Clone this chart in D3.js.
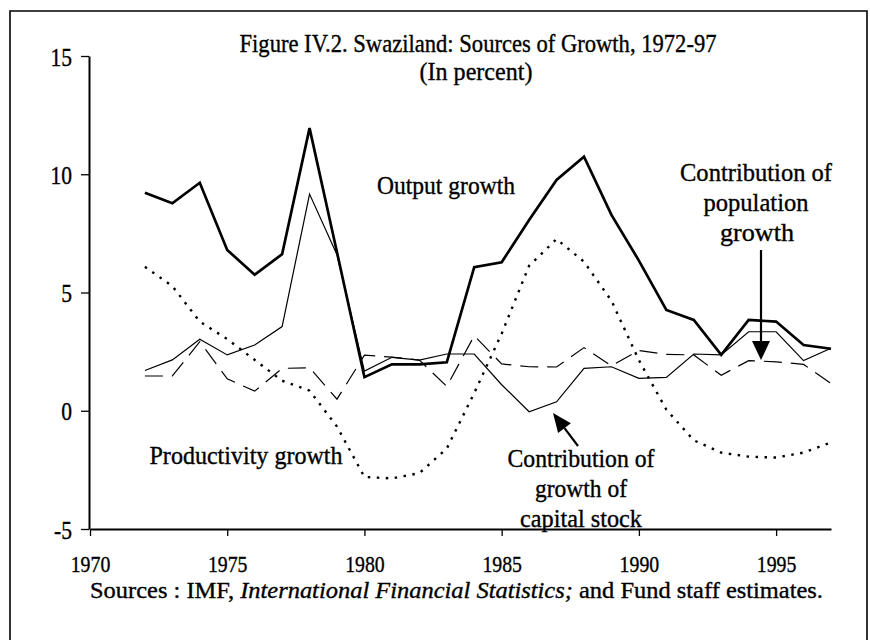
<!DOCTYPE html>
<html>
<head>
<meta charset="utf-8">
<script src="https://cdn.jsdelivr.net/npm/d3@7"></script>
<style>
  body { margin: 0; background: #fff; }
  text { font-family: "Liberation Serif", "Times New Roman", serif; fill: #000; stroke: #000; stroke-width: 0.35px; }
</style>
</head>
<body>
<div id="chart"></div>
<script>
// Swaziland: sources of growth, 1972-97 (in percent)
const years = d3.range(1972, 1998);
const outputGrowth = [9.22, 8.77, 9.64, 6.80, 5.75, 6.62, 11.95, 6.70, 1.42, 1.96, 1.96, 2.05, 6.07,
  6.28, 8.07, 9.76, 10.74, 8.28, 6.35, 4.26, 3.84, 2.36, 3.84, 3.77, 2.78, 2.62];
const capitalContrib = [1.70, 2.15, 3.02, 2.36, 2.78, 3.56, 9.16, 6.60, 1.68, 2.26, 2.14, 2.40, 2.40,
  1.10, -0.04, 0.38, 1.79, 1.86, 1.37, 1.41, 2.40, 2.36, 3.34, 3.34, 2.12, 2.64];
const populationContrib = [1.47, 1.47, 2.92, 1.35, 0.83, 1.79, 1.82, 0.49, 2.35, 2.27, 2.14, 1.03, 3.17,
  1.98, 1.86, 1.85, 2.67, 1.90, 2.55, 2.38, 2.36, 1.50, 2.12, 2.07, 1.96, 1.15];
const productivity = [6.09, 5.27, 3.77, 3.03, 2.15, 1.27, 0.85, -0.67, -2.80, -2.86, -2.64, -1.60, 0.75,
  3.26, 6.13, 7.26, 6.30, 4.65, 2.14, 0.05, -1.25, -1.77, -1.94, -1.98, -1.77, -1.34];
const xTicks = [1970, 1975, 1980, 1985, 1990, 1995];
const yTicks = [-5, 0, 5, 10, 15];

const width = 870;
const height = 640;
const squeeze = 0.86; // the scanned type is narrow

const svg = d3.select("#chart")
  .append("svg")
  .attr("width", width)
  .attr("height", height);

// frame of the scanned page
svg.append("path")
  .attr("d", "M10,640 L10,11 L867,11 L867,640")
  .attr("fill", "none")
  .attr("stroke", "#000")
  .attr("stroke-width", 1.6);

const x = d3.scaleLinear().domain([1970, 1997]).range([90, 831]);
const y = d3.scaleLinear().domain([-5, 15]).range([529, 56]);

// y axis
const yAxis = svg.append("g")
  .attr("transform", "translate(89,0)")
  .call(d3.axisLeft(y).tickValues(yTicks).tickSize(8).tickSizeOuter(0).tickPadding(9)
    .tickFormat(d => String(d)));
yAxis.selectAll("text")
  .attr("font-size", 25)
  .attr("font-family", "Liberation Serif, serif")
  .attr("dy", "0.36em");

// x axis
const xAxis = svg.append("g")
  .attr("transform", "translate(0,529)")
  .call(d3.axisBottom(x).tickValues(xTicks).tickSize(7).tickSizeOuter(0).tickFormat(d => String(d)));
xAxis.selectAll("text")
  .attr("font-size", 23)
  .attr("font-family", "Liberation Serif, serif")
  .attr("y", 43)
  .attr("dy", 0);
svg.selectAll(".domain").attr("stroke-width", 2);
svg.selectAll(".tick line").attr("stroke-width", 1.3);

// series
const line = d3.line()
  .x((d, i) => x(years[i]))
  .y(d => y(d));

svg.append("path")
  .datum(productivity)
  .attr("d", line)
  .attr("fill", "none")
  .attr("stroke", "#000")
  .attr("stroke-width", 2.4)
  .attr("stroke-dasharray", "2.5,6.5");

svg.append("path")
  .datum(populationContrib)
  .attr("d", line)
  .attr("fill", "none")
  .attr("stroke", "#000")
  .attr("stroke-width", 1.2)
  .attr("stroke-dasharray", "18,9");

svg.append("path")
  .datum(capitalContrib)
  .attr("d", line)
  .attr("fill", "none")
  .attr("stroke", "#000")
  .attr("stroke-width", 1.2);

svg.append("path")
  .datum(outputGrowth)
  .attr("d", line)
  .attr("fill", "none")
  .attr("stroke", "#000")
  .attr("stroke-width", 2.7)
  .attr("stroke-linejoin", "miter");

// labels, with the width they take in the picture
function label(str, cx, by, w, anchor) {
  return svg.append("text")
    .attr("x", cx)
    .attr("y", by)
    .attr("font-size", 25)
    .attr("text-anchor", anchor || "middle")
    .attr("textLength", w)
    .attr("lengthAdjust", "spacingAndGlyphs")
    .text(str);
}

label("Figure IV.2. Swaziland: Sources of Growth, 1972-97", 478, 52, 477);
label("(In percent)", 476, 80, 113);
label("Output growth", 446, 194, 138);
label("Contribution of", 756, 181, 152);
label("population", 756, 211, 105);
label("growth", 757, 241, 74);
label("Productivity growth", 246, 464, 193);
label("Contribution of", 581, 467, 147);
label("growth of", 581, 497, 92);
label("capital stock", 581, 527, 122);

const src = svg.append("text")
  .attr("x", 90)
  .attr("y", 598)
  .attr("font-size", 23)
  .attr("textLength", 733)
  .attr("lengthAdjust", "spacingAndGlyphs");
src.append("tspan").text("Sources : IMF, ");
src.append("tspan").attr("font-style", "italic").text("International Financial Statistics;");
src.append("tspan").text(" and Fund staff estimates.");

// squeeze the tick labels
svg.selectAll(".tick text").each(function() {
  const w = this.getComputedTextLength();
  d3.select(this).attr("textLength", w * squeeze).attr("lengthAdjust", "spacingAndGlyphs");
});

// arrows
function arrow(x1, y1, x2, y2, headLen, headHalf, sw) {
  const a = Math.atan2(y2 - y1, x2 - x1);
  const bx = x2 - headLen * Math.cos(a);
  const by = y2 - headLen * Math.sin(a);
  svg.append("line")
    .attr("x1", x1).attr("y1", y1).attr("x2", bx).attr("y2", by)
    .attr("stroke", "#000").attr("stroke-width", sw);
  const px = -Math.sin(a) * headHalf;
  const py = Math.cos(a) * headHalf;
  svg.append("path")
    .attr("d", `M${x2},${y2} L${bx + px},${by + py} L${bx - px},${by - py} Z`)
    .attr("fill", "#000");
}
arrow(761, 250, 761, 360, 19, 9, 2.2);
arrow(578, 446, 553, 413, 19, 8, 2.2);
</script>
</body>
</html>
